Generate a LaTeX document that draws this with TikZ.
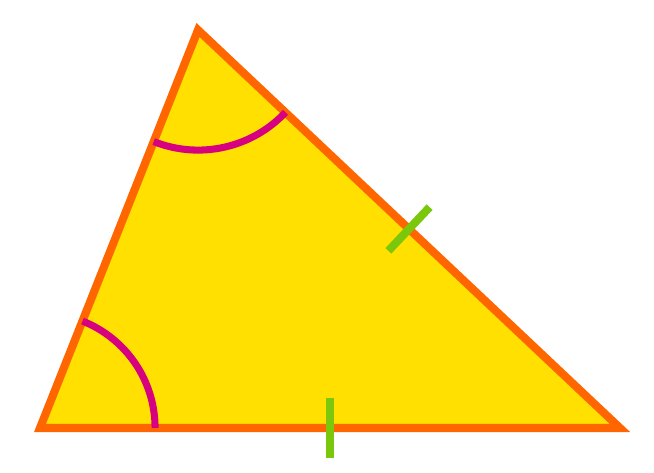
\documentclass[tikz,border=0pt]{standalone}
\usetikzlibrary{calc}
\definecolor{fillyellow}{RGB}{255,224,0}
\definecolor{edgeorange}{RGB}{255,102,0}
\definecolor{anglemagenta}{RGB}{214,0,128}
\definecolor{tickgreen}{RGB}{122,199,12}

\begin{document}
\begin{tikzpicture}[x=0.01cm,y=0.01cm]
    \useasboundingbox (0,0) rectangle (654,473);
    % Vertici del triangolo
    \coordinate (A) at (40,45);
    \coordinate (B) at (198,443);
    \coordinate (C) at (620,45);

    % Triangolo (riempimento giallo, bordo arancione)
    \draw[line width=2.3pt, color=edgeorange, fill=fillyellow, line join=miter]
        (A) -- (B) -- (C) -- cycle;

    % Archi degli angoli (magenta)
    \draw[line width=2pt, color=anglemagenta]
        ($(B)!1.2cm!(A)$) arc[start angle=248.3, end angle=316.7, radius=1.2cm];
    \draw[line width=2pt, color=anglemagenta]
        ($(A)!1.15cm!(C)$) arc[start angle=0, end angle=68.3, radius=1.15cm];

    % Tacche sui lati congruenti (verde)
    \coordinate (MBC) at ($(B)!0.5!(C)$);
    \coordinate (MAC) at ($(A)!0.5!(C)$);
    \draw[line width=2.3pt, color=tickgreen]
        ($(MBC)!0.3cm!90:(C)$) -- ($(MBC)!0.3cm!-90:(C)$);
    \draw[line width=2.3pt, color=tickgreen]
        ($(MAC)!0.3cm!90:(C)$) -- ($(MAC)!0.3cm!-90:(C)$);
\end{tikzpicture}
\end{document}
